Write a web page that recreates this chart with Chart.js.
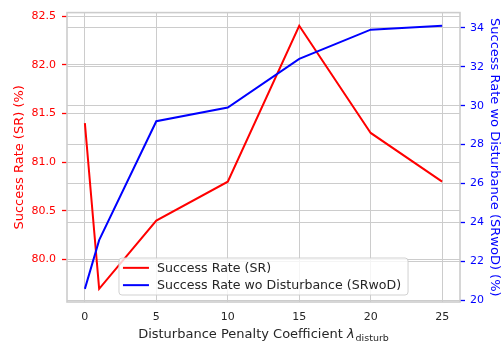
<!DOCTYPE html>
<html>
<head>
<meta charset="utf-8">
<script src="https://cdn.jsdelivr.net/npm/chart.js@4.4.1/dist/chart.umd.min.js"></script>
<style>
  html, body { margin: 0; padding: 0; background: #ffffff; }
  #wrap { width: 503px; height: 349px; }
</style>
</head>
<body>
<div id="wrap"><canvas id="c" width="503" height="349"></canvas></div>
<script>
// Disturbance penalty coefficients (x positions)
const lambdas = [0, 1, 5, 10, 15, 20, 25];
// Success Rate (SR), left axis, %
const successRate = [81.4, 79.7, 80.4, 80.8, 82.4, 81.3, 80.8];
// Success Rate without disturbance (SRwoD), right axis, %
const successRateWoD = [20.6, 23.1, 29.2, 29.9, 32.4, 33.9, 34.1];

// Tick values for each axis
const xTicks = [0, 5, 10, 15, 20, 25];
const leftTicks = [80.0, 80.5, 81.0, 81.5, 82.0, 82.5];
const rightTicks = [20, 22, 24, 26, 28, 30, 32, 34];

const FONT = '"DejaVu Sans", "Liberation Sans", sans-serif';
const GRID = '#cccccc';
const TEXT = '#262626';

// axis range padded by 5% of the data span on each side
function padded(values, frac) {
  const lo = Math.min(...values), hi = Math.max(...values);
  const m = (hi - lo) * frac;
  return [lo - m, hi + m];
}
const [xMin, xMax] = padded(lambdas, 0.05);
const [lMin, lMax] = padded(successRate, 0.05);
const [rMin, rMax] = padded(successRateWoD, 0.05);

function fixedTicks(values) {
  return (scale) => { scale.ticks = values.map(v => ({ value: v })); };
}

// light frame around the plotting area
const framePlugin = {
  id: 'frame',
  afterDatasetsDraw(chart) {
    const { ctx, chartArea: a } = chart;
    ctx.save();
    ctx.strokeStyle = GRID;
    ctx.lineWidth = 1.6;
    ctx.strokeRect(a.left, a.top, a.right - a.left, a.bottom - a.top);
    ctx.restore();
  }
};

// legend box at the lower centre of the plotting area
const innerLegend = {
  id: 'innerLegend',
  afterDraw(chart) {
    const { ctx, chartArea: a } = chart;
    const ds = chart.data.datasets;
    ctx.save();
    ctx.font = '12.6px ' + FONT;
    const textW = Math.max(...ds.map(d => ctx.measureText(d.label).width));
    const padL = 4, lineLen = 26, gap = 8, padR = 7, rowH = 17.3, padV = 1.2;
    const w = padL + lineLen + gap + textW + padR;
    const h = padV * 2 + rowH * ds.length;
    const x = (a.left + a.right) / 2 - w / 2;
    const y = a.bottom - 7 - h;
    const r = 3;
    ctx.beginPath();
    ctx.moveTo(x + r, y);
    ctx.arcTo(x + w, y, x + w, y + h, r);
    ctx.arcTo(x + w, y + h, x, y + h, r);
    ctx.arcTo(x, y + h, x, y, r);
    ctx.arcTo(x, y, x + w, y, r);
    ctx.closePath();
    ctx.fillStyle = 'rgba(255,255,255,0.8)';
    ctx.fill();
    ctx.strokeStyle = 'rgba(204,204,204,0.9)';
    ctx.lineWidth = 1;
    ctx.stroke();
    ds.forEach((d, i) => {
      const cy = y + padV + rowH * i + rowH / 2;
      ctx.strokeStyle = d.borderColor;
      ctx.lineWidth = 2;
      ctx.beginPath();
      ctx.moveTo(x + padL, cy);
      ctx.lineTo(x + padL + lineLen, cy);
      ctx.stroke();
      ctx.fillStyle = TEXT;
      ctx.textBaseline = 'middle';
      ctx.textAlign = 'left';
      ctx.fillText(d.label, x + padL + lineLen + gap, cy + 0.5);
    });
    ctx.restore();
  }
};

// x-axis title with a subscripted lambda
const xTitle = {
  id: 'xTitle',
  afterDraw(chart) {
    const { ctx, chartArea: a } = chart;
    const main = 'Disturbance Penalty Coefficient ';
    const sym = '\u03bb';
    const sub = 'disturb';
    ctx.save();
    ctx.fillStyle = TEXT;
    ctx.textBaseline = 'alphabetic';
    ctx.textAlign = 'left';
    const fMain = '13px ' + FONT;
    const fSym = 'italic 13px ' + FONT;
    const fSub = '9.5px ' + FONT;
    ctx.font = fMain; const w1 = ctx.measureText(main).width;
    ctx.font = fSym; const w2 = ctx.measureText(sym).width;
    ctx.font = fSub; const w3 = ctx.measureText(sub).width;
    const total = w1 + w2 + 1 + w3;
    let x = (a.left + a.right) / 2 - total / 2;
    const base = 338;
    ctx.font = fMain; ctx.fillText(main, x, base); x += w1;
    ctx.font = fSym; ctx.fillText(sym, x, base); x += w2 + 1;
    ctx.font = fSub; ctx.fillText(sub, x, base + 3);
    ctx.restore();
  }
};

new Chart(document.getElementById('c'), {
  type: 'line',
  data: {
    datasets: [
      {
        label: 'Success Rate (SR)',
        data: lambdas.map((x, i) => ({ x, y: successRate[i] })),
        borderColor: '#ff0000',
        backgroundColor: '#ff0000',
        borderWidth: 2,
        pointRadius: 0,
        tension: 0,
        yAxisID: 'yL',
        order: 1
      },
      {
        label: 'Success Rate wo Disturbance (SRwoD)',
        data: lambdas.map((x, i) => ({ x, y: successRateWoD[i] })),
        borderColor: '#0000ff',
        backgroundColor: '#0000ff',
        borderWidth: 2,
        pointRadius: 0,
        tension: 0,
        yAxisID: 'yR',
        order: 0
      }
    ]
  },
  options: {
    responsive: false,
    devicePixelRatio: 1,
    animation: false,
    layout: { padding: { top: 10, left: 0, right: 0, bottom: 0 } },
    plugins: {
      legend: { display: false },
      tooltip: { enabled: false }
    },
    scales: {
      x: {
        type: 'linear',
        min: xMin,
        max: xMax,
        afterBuildTicks: fixedTicks(xTicks),
        afterFit(scale) { scale.height = 47; },
        grid: { color: GRID, lineWidth: 1, drawTicks: false },
        border: { display: false },
        ticks: {
          color: TEXT,
          padding: 9,
          font: { family: FONT, size: 11 },
          callback: v => String(v)
        }
      },
      yL: {
        type: 'linear',
        position: 'left',
        min: lMin,
        max: lMax,
        afterBuildTicks: fixedTicks(leftTicks),
        afterFit(scale) { scale.width = 67; },
        grid: { color: GRID, lineWidth: 1, drawTicks: true, tickLength: 5, tickColor: '#ff0000', tickWidth: 1.3 },
        border: { display: false },
        ticks: {
          color: '#ff0000',
          padding: 6,
          font: { family: FONT, size: 11 },
          callback: v => Number(v).toFixed(1)
        },
        title: {
          display: true,
          text: 'Success Rate (SR) (%)',
          color: '#ff0000',
          font: { family: FONT, size: 13 },
          padding: { top: 12, bottom: 0 }
        }
      },
      yR: {
        type: 'linear',
        position: 'right',
        min: rMin,
        max: rMax,
        afterBuildTicks: fixedTicks(rightTicks),
        afterFit(scale) { scale.width = 43; },
        grid: { color: GRID, lineWidth: 1, drawTicks: true, tickLength: 5, tickColor: '#0000ff', tickWidth: 1.3 },
        border: { display: false },
        ticks: {
          color: '#0000ff',
          padding: 5,
          font: { family: FONT, size: 11 },
          callback: v => String(v)
        },
        title: {
          display: true,
          text: 'Success Rate wo Disturbance (SRwoD) (%)',
          color: '#0000ff',
          font: { family: FONT, size: 13 },
          padding: { top: 1, bottom: 0 }
        }
      }
    }
  },
  plugins: [framePlugin, innerLegend, xTitle]
});
</script>
</body>
</html>
